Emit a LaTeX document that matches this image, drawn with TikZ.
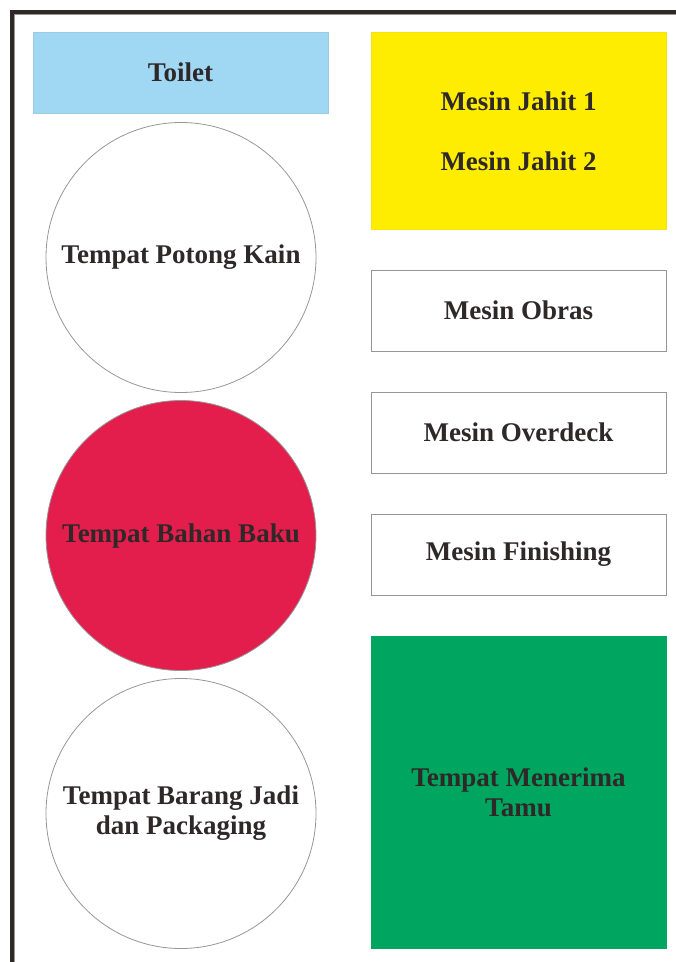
\documentclass[tikz,border=0pt]{standalone}
\usepackage{fontspec}
\setmainfont{Liberation Serif}
\usepackage{tikz}
\definecolor{tinta}{RGB}{46,40,41}
\definecolor{biru}{RGB}{160,216,244}
\definecolor{kuning}{RGB}{255,237,0}
\definecolor{merah}{RGB}{228,30,76}
\definecolor{hijau}{RGB}{0,166,95}
\definecolor{garis}{RGB}{150,150,150}
\tikzset{
	ruang/.style={draw=garis, line width=0.8pt, minimum width=295pt, minimum height=81pt, inner sep=0pt, text=tinta, font=\fontsize{27}{30}\selectfont\bfseries, align=center},
	bulat/.style={draw=garis, line width=0.8pt, circle, minimum size=270pt, inner sep=0pt, text=tinta, font=\fontsize{27}{30}\selectfont\bfseries, align=center}
}

\begin{document}
\begin{tikzpicture}[x=1pt, y=-1pt]
				\useasboundingbox (0,0) rectangle (676,962);
				% dinding
				\draw[garis, line width=1.5pt] (14.5,962) -- (14.5,14.5) -- (676,14.5);
				\draw[tinta, line width=4pt] (11.5,962) -- (11.5,11.5) -- (676,11.5);
				% kolom kiri
				\node[ruang, fill=biru, draw=biru!80!garis] (toilet) at (180.5,72.5) {Toilet};
				\node[bulat] (potong) at (181,257.5) {Tempat Potong Kain};
				\node[bulat, fill=merah] (bahan) at (181,535.5) {Tempat Bahan Baku};
				\node[bulat] (jadi) at (181,813.5) {Tempat Barang Jadi\\dan Packaging};
				% kolom kanan
				\node[ruang, fill=kuning, draw=kuning!90!garis, minimum height=197pt] (jahit) at (518.5,130.5) {};
				\node[text=tinta, font=\fontsize{27}{30}\selectfont\bfseries] (jahita) at (518.5,101) {Mesin Jahit 1};
				\node[text=tinta, font=\fontsize{27}{30}\selectfont\bfseries] (jahitb) at (518.5,161) {Mesin Jahit 2};
				\foreach \y/\n/\t in {310.5/obras/Mesin Obras, 432.5/overdeck/Mesin Overdeck, 554.5/finishing/Mesin Finishing} {
					\node[ruang] (\n) at (518.5,\y) {\t};
				}
				\node[ruang, fill=hijau, draw=hijau, minimum height=312pt] (tamu) at (518.5,792) {Tempat Menerima\\Tamu};
			\end{tikzpicture}
\end{document}
